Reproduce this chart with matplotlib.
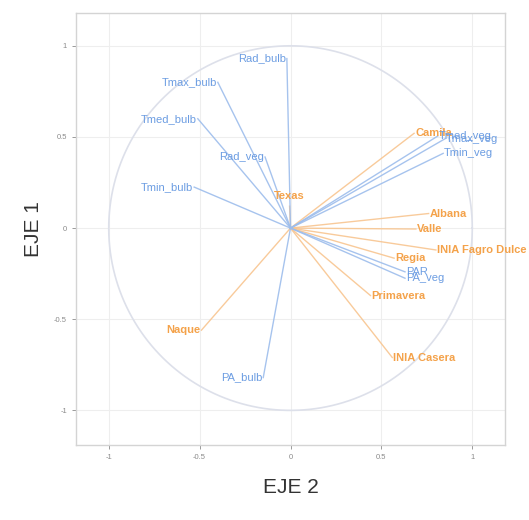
import numpy as np
import matplotlib
matplotlib.use("Agg")
import matplotlib.pyplot as plt

plt.rcParams['font.family'] = ['Liberation Sans', 'DejaVu Sans']

# Variable loadings (EJE 2, EJE 1)
var_names = ["Rad_bulb", "Tmax_bulb", "Tmed_bulb", "Rad_veg", "Tmin_bulb",
             "Tmax_veg", "Tmed_veg", "Tmin_veg", "PAR", "PA_veg", "PA_bulb"]
var_x = [-0.02, -0.40, -0.51, -0.14, -0.53, 0.85, 0.81, 0.84, 0.63, 0.63, -0.15]
var_y = [0.93, 0.80, 0.60, 0.39, 0.225, 0.49, 0.505, 0.41, -0.24, -0.275, -0.82]

# Cultivar scores (EJE 2, EJE 1)
ind_names = ["Camila", "Texas", "Albana", "Valle", "INIA Fagro Dulce",
             "Regia", "Primavera", "INIA Casera", "Naque"]
ind_x = [0.68, -0.005, 0.76, 0.69, 0.80, 0.57, 0.44, 0.56, -0.49]
ind_y = [0.52, 0.12, 0.08, -0.005, -0.12, -0.165, -0.37, -0.71, -0.56]

ticks = [-1, -0.5, 0, 0.5, 1]
tick_labels = ["-1", "-0.5", "0", "0.5", "1"]

blue_line = "#9dbdec"
blue_text = "#6c9de2"
orange_line = "#f8c590"
orange_text = "#f4a24a"

fig = plt.figure(figsize=(5.29, 5.20), dpi=100)
ax = fig.add_axes([0.1437, 0.1442, 0.8109, 0.8308])

ax.set_xlim(-1.18, 1.18)
ax.set_ylim(-1.19, 1.18)

# correlation circle
theta = np.linspace(0, 2 * np.pi, 400)
ax.plot(np.cos(theta), np.sin(theta), color="#dde0ea", lw=1.2, zorder=1)

def place(ax, x, y, name, color, weight):
    if abs(x) < 0.01:
        ha, va, dx, dy = "center", "bottom", 0, 0.03
    elif x < 0:
        ha, va, dx, dy = "right", "center", -0.005, 0
    else:
        ha, va, dx, dy = "left", "center", 0.005, 0
    ax.text(x + dx, y + dy, name, color=color, fontsize=8, ha=ha, va=va,
            fontweight=weight, clip_on=False, zorder=4)

for x, y, n in zip(ind_x, ind_y, ind_names):
    ax.plot([0, x], [0, y], color=orange_line, lw=1.0, alpha=0.9, zorder=2)
    place(ax, x, y, n, orange_text, "bold")

for x, y, n in zip(var_x, var_y, var_names):
    ax.plot([0, x], [0, y], color=blue_line, lw=1.0, alpha=0.9, zorder=3)
    place(ax, x, y, n, blue_text, "normal")

ax.set_xticks(ticks)
ax.set_xticklabels(tick_labels)
ax.set_yticks(ticks)
ax.set_yticklabels(tick_labels)
ax.tick_params(labelsize=5.5, colors="#8a8a8a", length=3, width=0.6)
ax.grid(True, color="#eeeeee", lw=0.8)
ax.set_axisbelow(True)
for s in ax.spines.values():
    s.set_color("#d4d4d4")
    s.set_linewidth(1.0)

ax.set_xlabel("EJE 2", fontsize=15, color="#333333", labelpad=12)
ax.set_ylabel("EJE 1", fontsize=15, color="#333333", labelpad=8)

fig.savefig("out.png", dpi=100, facecolor="white")
